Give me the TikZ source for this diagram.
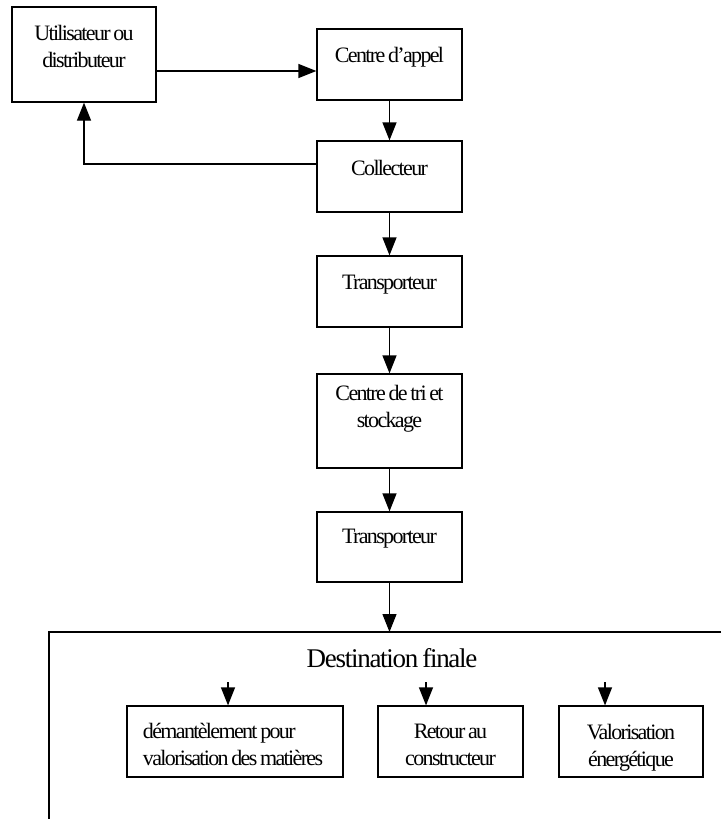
\documentclass[tikz,border=0pt]{standalone}
\usepackage{fontspec}
\setmainfont{Liberation Serif}[LetterSpace=-7.5, WordSpace=0.7]
\usetikzlibrary{arrows.meta}

\begin{document}
\begin{tikzpicture}[x=1pt, y=-1pt, line width=1.2pt,
  box/.style={draw, rectangle, minimum width=145pt, minimum height=71pt, inner sep=0pt},
  every label/.style={font=\fontsize{22}{27}\selectfont, align=center, inner sep=0pt}]
\useasboundingbox (0,0) rectangle (721,819);

\node[box, minimum width=144pt, minimum height=95pt, label={[yshift=8.5pt]center:Utilisateur ou\\distributeur}] (util) at (84,54.5) {};
\node[box, label={[yshift=7.5pt]center:Centre d’appel}] (appel) at (389.5,64.5) {};
\node[box, label={[yshift=9pt]center:Collecteur}] (coll) at (389.5,176.5) {};
\node[box, label={[yshift=7pt]center:Transporteur}] (trans1) at (389.5,291.5) {};
\node[box, minimum height=94pt, label={[yshift=12pt]center:Centre de tri et\\stockage}] (tri) at (389.5,421) {};
\node[box, minimum height=70pt, label={[yshift=8pt]center:Transporteur}] (trans2) at (389.5,547) {};

\draw (721,632) -- (49,632) -- (49,819);
\node[font=\fontsize{27}{32}\selectfont\addfontfeature{LetterSpace=-4.7}, inner sep=0pt] (dest) at (392,658.5) {Destination finale};
\coordinate (dtop) at (389.5,632);

\node[box, minimum width=216pt, label={[yshift=-3pt, xshift=-2pt, align=left]center:démantèlement pour\\valorisation des matières}] (d1) at (235,741.5) {};
\node[box, label={[yshift=-3.5pt]center:Retour au\\constructeur}] (d2) at (450.5,741.5) {};
\node[box, minimum width=144pt, label={[yshift=-6pt]center:Valorisation\\énergétique}] (d3) at (631,741.5) {};
\coordinate (s1) at (228,682);
\coordinate (s2) at (426,682);
\coordinate (s3) at (605,682);

\begin{scope}[>={Triangle[length=18pt,width=14pt]}]
\draw[->] ([yshift=-16.5pt]util.east) -- ([yshift=-16.5pt]util.east -| appel.west);
\draw[->] (appel) -- (coll);
\draw[->] ([yshift=12.5pt]coll.west) -| (util.south);
\draw[->] (coll) -- (trans1);
\draw[->] (trans1) -- (tri);
\draw[->] (tri) -- (trans2);
\draw[->] (trans2) -- (dtop);
\draw[->] (s1) -- (s1 |- d1.north);
\draw[->] (s2) -- (s2 |- d2.north);
\draw[->] (s3) -- (s3 |- d3.north);
\end{scope}
\end{tikzpicture}
\end{document}
